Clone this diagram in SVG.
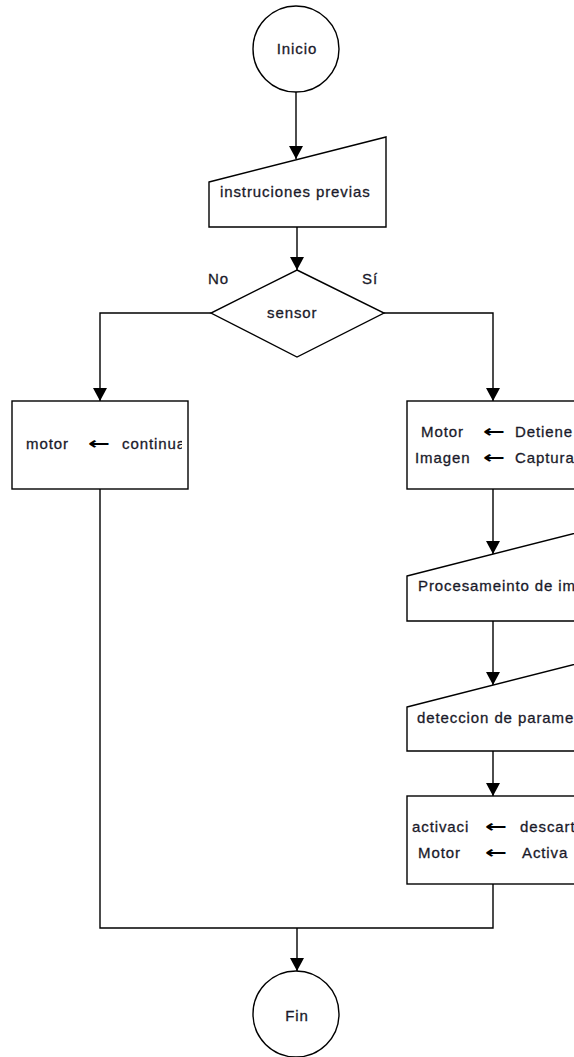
<svg xmlns="http://www.w3.org/2000/svg" width="574" height="1057" viewBox="0 0 574 1057">
<style>
.sh{fill:#fff;stroke:#000;stroke-width:1.4}
.ln{fill:none;stroke:#000;stroke-width:1.4}
.t{font-family:"Liberation Sans",Arial,sans-serif;font-size:15px;letter-spacing:0.9px;fill:#1a1a2a;stroke:#1a1a2a;stroke-width:0.3}
.c{text-anchor:middle}
.ar{font-family:"DejaVu Sans",sans-serif;font-size:17px;font-weight:bold;fill:#000}
</style>
<defs>
<clipPath id="cL1"><rect x="116" y="401" width="66" height="88"/></clipPath>
<clipPath id="cR4a"><rect x="409" y="796" width="64" height="88"/></clipPath>
</defs>
<g id="connectors">
<path class="ln" d="M296,92 V159"/>
<path class="ln" d="M297,227 V270"/>
<path class="ln" d="M211,313 H100 V401"/>
<path class="ln" d="M384,313 H493 V401"/>
<path class="ln" d="M493,489 V554"/>
<path class="ln" d="M493,621 V685"/>
<path class="ln" d="M493,751 V796"/>
<path class="ln" d="M493,884 V928 H100 V489"/>
<path class="ln" d="M297,928 V971"/>
<path d="M289,146 H303 L296,159 Z" fill="#000"/>
<path d="M290,257 H304 L297,270 Z" fill="#000"/>
<path d="M93,388 H107 L100,401 Z" fill="#000"/>
<path d="M486,388 H500 L493,401 Z" fill="#000"/>
<path d="M486,541 H500 L493,554 Z" fill="#000"/>
<path d="M486,672 H500 L493,685 Z" fill="#000"/>
<path d="M486,783 H500 L493,796 Z" fill="#000"/>
<path d="M290,958 H304 L297,971 Z" fill="#000"/>
</g>
<g id="inicio">
<circle class="sh" cx="296" cy="49" r="43"/>
<text class="t c" x="297" y="54">Inicio</text>
</g>
<g id="instrucciones">
<path class="sh" d="M209,182 L386,137 V227 H209 Z"/>
<text class="t" x="220" y="197">instruciones previas</text>
</g>
<g id="sensor">
<path class="sh" d="M297,270 L384,313 L297,357 L211,313 Z"/>
<text class="t" x="267" y="318">sensor</text>
<text class="t" x="208" y="284">No</text>
<text class="t" x="362" y="284">Sí</text>
</g>
<g id="motor-continua">
<rect class="sh" x="12" y="401" width="176" height="88"/>
<text class="t" x="26" y="449">motor</text>
<text class="ar" x="88" y="449" textLength="22" lengthAdjust="spacingAndGlyphs">←</text>
<text class="t" x="122" y="449" clip-path="url(#cL1)">continua</text>
</g>
<g id="detiene-captura">
<rect class="sh" x="407" y="401" width="176" height="88"/>
<text class="t" x="421" y="437">Motor</text>
<text class="ar" x="483" y="437" textLength="22" lengthAdjust="spacingAndGlyphs">←</text>
<text class="t" x="515" y="437">Detiene</text>
<text class="t" x="415" y="463">Imagen</text>
<text class="ar" x="483" y="463" textLength="22" lengthAdjust="spacingAndGlyphs">←</text>
<text class="t" x="515" y="463">Captura</text>
</g>
<g id="procesamiento">
<path class="sh" d="M407,576 L584,531 V621 H407 Z"/>
<text class="t" x="418" y="591">Procesameinto de im</text>
</g>
<g id="deteccion">
<path class="sh" d="M407,707 L584,662 V751 H407 Z"/>
<text class="t" x="417" y="723">deteccion de parame</text>
</g>
<g id="activacion">
<rect class="sh" x="407" y="796" width="176" height="88"/>
<text class="t" x="412" y="832" clip-path="url(#cR4a)">activaci</text>
<text class="ar" x="485" y="832" textLength="22" lengthAdjust="spacingAndGlyphs">←</text>
<text class="t" x="520" y="832">descarte</text>
<text class="t" x="418" y="858">Motor</text>
<text class="ar" x="485" y="858" textLength="22" lengthAdjust="spacingAndGlyphs">←</text>
<text class="t" x="522" y="858">Activa</text>
</g>
<g id="fin">
<circle class="sh" cx="296" cy="1014" r="43"/>
<text class="t c" x="297" y="1021">Fin</text>
</g>
</svg>
